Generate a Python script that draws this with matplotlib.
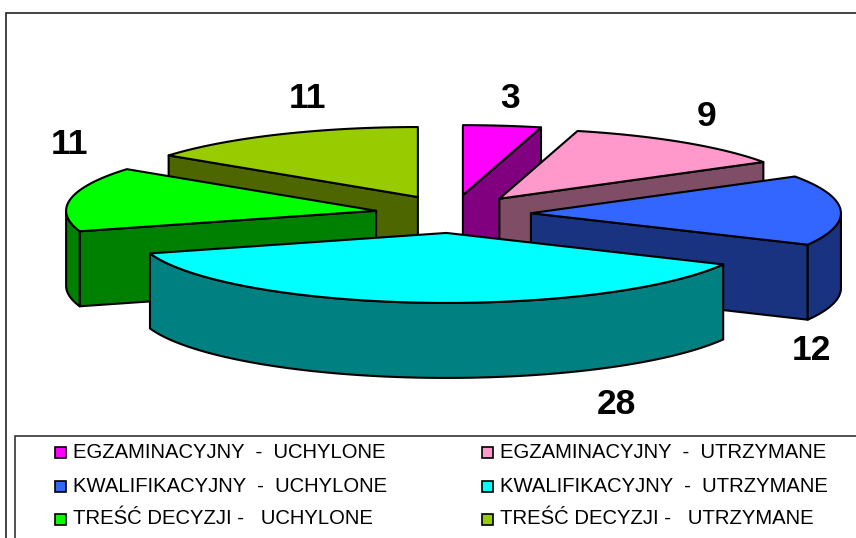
import numpy as np
import matplotlib
matplotlib.use('Agg')
import matplotlib.pyplot as plt
from matplotlib.patches import Polygon, Rectangle

categorias = ['EGZAMINACYJNY  -  UCHYLONE', 'EGZAMINACYJNY  -  UTRZYMANE',
              'KWALIFIKACYJNY  -  UCHYLONE', 'KWALIFIKACYJNY  -  UTRZYMANE',
              'TREŚĆ DECYZJI -   UCHYLONE', 'TREŚĆ DECYZJI -   UTRZYMANE']
valores = [3, 9, 12, 28, 11, 11]
cor_topo = ['#FF00FF', '#FF99CC', '#3366FF', '#00FFFF', '#00FF00', '#99CC00']
cor_lado = ['#800080', '#804D66', '#1A3380', '#008080', '#008000', '#4D6600']

# geometria da pizza, em pixels da figura
CX, CY = 453, 214
RX, RY = 310, 70
EXP_X, EXP_Y = 78, 19
ALTURA = 75
ordem_desenho = [0, 5, 1, 4, 2, 3]
pos_rotulos = [(510, 98), (707, 116), (811, 350), (616, 404), (70, 144), (308, 98)]
pos_legenda = [(55, 452), (482, 452), (55, 486), (482, 486), (55, 519), (482, 519)]


def ponto(ang, ox, oy):
    return ox + RX * np.sin(ang), oy - RY * np.cos(ang)


def desenha_fatia(ax, ini, fim, topo, lado):
    meio = (ini + fim) / 2
    ox = CX + EXP_X * np.sin(meio)
    oy = CY - EXP_Y * np.cos(meio)
    estilo = dict(edgecolor='black', linewidth=1.5, joinstyle='round')

    # faces de corte que ficam de frente
    for ang, visivel in [(ini, np.sin(ini) < -1e-6), (fim, np.sin(fim) > 1e-6)]:
        if visivel:
            px, py = ponto(ang, ox, oy)
            ax.add_patch(Polygon([(ox, oy), (px, py), (px, py + ALTURA), (ox, oy + ALTURA)],
                                 facecolor=lado, **estilo))

    # parede externa
    a0, a1 = max(ini, np.pi / 2), min(fim, 3 * np.pi / 2)
    if a1 > a0:
        arco = np.linspace(a0, a1, 80)
        xs, ys = ponto(arco, ox, oy)
        pts = np.column_stack([np.r_[xs, xs[::-1]], np.r_[ys, ys[::-1] + ALTURA]])
        ax.add_patch(Polygon(pts, facecolor=lado, **estilo))

    # topo
    arco = np.linspace(ini, fim, 120)
    xs, ys = ponto(arco, ox, oy)
    pts = np.column_stack([np.r_[ox, xs], np.r_[oy, ys]])
    ax.add_patch(Polygon(pts, facecolor=topo, **estilo))


def main():
    fig = plt.figure(figsize=(8.56, 5.38), dpi=100)
    ax = fig.add_axes([0, 0, 1, 1])
    ax.set_xlim(0, 856)
    ax.set_ylim(538, 0)
    ax.axis('off')

    # moldura do grafico e da legenda
    ax.add_patch(Rectangle((6, 13), 870, 560, facecolor='white', edgecolor='#222222', linewidth=1.2))

    angulos = np.r_[0, np.cumsum(valores)] / sum(valores) * 2 * np.pi
    for i in ordem_desenho:
        desenha_fatia(ax, angulos[i], angulos[i + 1], cor_topo[i], cor_lado[i])

    for v, (x, y) in zip(valores, pos_rotulos):
        ax.text(x, y, str(v), fontsize=25.5, fontweight='bold', family='Liberation Sans',
                ha='center', va='center', color='black')

    ax.add_patch(Rectangle((15, 436), 870, 120, facecolor='white', edgecolor='#333333', linewidth=1.2))
    for nome, cor, (x, y) in zip(categorias, cor_topo, pos_legenda):
        ax.add_patch(Rectangle((x, y - 5), 11, 11, facecolor=cor, edgecolor='black', linewidth=1.2))
        ax.text(x + 18, y, nome, fontsize=14.6, family='Liberation Sans', ha='left', va='center',
                color='black')

    fig.savefig('out.png', dpi=100)


main()
